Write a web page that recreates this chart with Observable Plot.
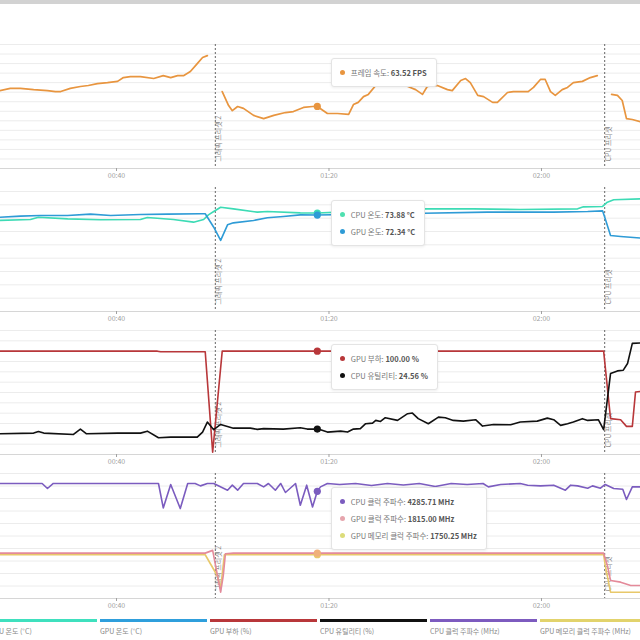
<!DOCTYPE html>
<html><head><meta charset="utf-8">
<script src="https://cdn.jsdelivr.net/npm/d3@7"></script>
<script src="https://cdn.jsdelivr.net/npm/@observablehq/plot@0.6"></script>
<style>
body{margin:0;background:#fff;font-family:"Noto Sans CJK KR","Noto Sans",sans-serif;}
#root{position:relative;width:640px;height:640px;overflow:hidden;background:#fff;}
.panel{position:absolute;left:0;width:640px;}
.panel svg{display:block;overflow:visible;}
.topbar{position:absolute;left:0;top:0;width:640px;height:4px;background:#d2d2d2;}
.tip{position:absolute;background:#fff;border:1px solid #e4e4e4;border-radius:3px;box-shadow:0 1px 3px rgba(0,0,0,0.07);padding:5px 9px 5px 8px;font-size:7.5px;line-height:17px;color:#777;white-space:nowrap;}
.tip .dot{display:inline-block;width:5px;height:5px;border-radius:50%;margin-right:6px;vertical-align:middle;position:relative;top:-1px;}
.tip b{color:#555;}
.leg{position:absolute;top:619px;width:107px;}
.leg .bar{height:3px;width:107px;}
.leg .lab{font-size:7px;color:#888;margin-top:4px;white-space:nowrap;line-height:10px;}
</style>
</head><body>
<div id="root"><div class="topbar"></div></div>
<script>
// time in minutes since start
const xDomain = [18.16, 138.64];
const xTicks = [40, 80, 120];
const xTickLabels = ["00:40", "01:20", "02:00"];
const eventTimes = [58.6, 131.9];
const eventLabels = ["그래픽 프리셋 2", "CPU 프리셋"];
const hoverTime = 77.8;

// 프레임 속도 (FPS) — null = gap
const fps = [[18,68.5],[20.0,69.2],[21.9,69.2],[24.4,68.8],[27.0,68.5],[28.5,68.2],[29.5,68.2],[31.3,69.2],[33.2,69.8],[34.7,70.1],[36.4,70.7],[38.3,71.0],[40.2,71.4],[41.3,72.6],[42.6,72.9],[44.5,72.9],[47.0,72.3],[48.8,73.2],[50.2,72.6],[51.5,73.2],[52.6,73.2],[53.9,74.5],[55.2,77.0],[56.2,78.9],[57.1,79.5],[58.6,null],[59.9,68.2],[61.1,63.8],[61.8,62.2],[62.8,63.5],[63.9,62.9],[65.8,60.7],[67.7,59.7],[69.6,60.7],[71.8,61.6],[73.3,61.9],[75.2,63.2],[76.9,63.5],[77.8,63.52],[79.7,61.3],[81.6,61.3],[83.7,61.0],[84.6,64.1],[85.5,64.8],[86.5,66.6],[87.4,67.3],[88.8,70.1],[90.6,72.3],[92.5,71.4],[94.0,70.4],[95.3,69.5],[96.3,68.8],[97.6,67.3],[98.5,69.8],[100.4,70.1],[102.3,68.8],[103.2,68.5],[104.8,71.7],[105.7,72.3],[106.6,71.0],[108.0,67.0],[109.1,66.6],[110.8,64.8],[111.7,64.8],[113.6,67.9],[114.7,68.2],[117.5,68.2],[118.5,69.5],[119.8,72.0],[120.7,72.0],[121.7,68.2],[122.6,67.0],[123.9,68.8],[124.9,69.5],[126.0,71.0],[127.7,71.4],[129.2,72.6],[130.5,73.2],[131.9,null],[133.2,67.3],[134.3,67.0],[135.2,65.4],[136.0,59.7],[137.1,59.4],[139,58.5]];

// CPU 온도 / GPU 온도 (°C)
const cpuTemp = [[18,68.3],[23.8,69.0],[25.3,70.7],[30.8,69.5],[37.0,68.8],[44.5,69.0],[45.8,70.5],[50.7,69.0],[54.5,67.0],[56.4,69.0],[57.3,72.5],[58.3,75.0],[59.6,78.2],[62.0,77.0],[66.5,74.5],[68.4,75.0],[74.6,74.0],[77.8,73.88],[82,74.5],[88,75.5],[94,76.2],[97.8,77.0],[107.2,77.0],[116.0,76.5],[126.8,77.0],[127.9,78.5],[131.5,78.8],[132.4,82.0],[133.6,83.8],[139,84.5]];
const gpuTemp = [[18,70.7],[21.9,71.5],[25.7,72.0],[30.8,72.0],[35.1,73.0],[38.9,72.0],[44.5,72.8],[49.6,73.0],[55.8,73.3],[56.7,73.3],[58.3,63.2],[59.6,53.3],[60.9,65.0],[62.0,66.5],[65.8,68.3],[68.4,70.3],[71.4,71.3],[74.6,72.5],[77.8,72.34],[88,73.0],[97.8,73.7],[109.8,74.5],[116.0,74.5],[122.3,74.5],[128.7,75.0],[131.5,75.5],[132.0,69.5],[133.0,57.0],[134.9,56.3],[139,55.0]];

// GPU 부하 / CPU 유틸리티 (%)
const gpuLoad = [[18,100],[47.7,100],[48.3,99.4],[56.7,99.4],[58.1,2.2],[59.9,100],[77.8,100],[131.7,100],[133.0,34.7],[134.9,33.7],[136.0,27.2],[137.1,27.2],[137.7,60.5],[139,61.2]];
const cpuUtil = [[18,20.1],[24.4,20.7],[25.3,22.3],[26.3,20.7],[31.9,19.4],[33.2,24.6],[34.3,20.1],[40.2,20.7],[44.5,20.7],[45.8,22.6],[47.9,16.2],[50.2,16.8],[55.2,16.8],[56.2,21.7],[57.1,31.4],[58.3,24.0],[59.6,29.1],[62.0,25.5],[65.2,25.5],[66.5,24.3],[67.7,25.0],[71.4,24.6],[74.6,25.9],[75.9,24.6],[77.8,24.56],[78.4,24.0],[79.7,21.7],[82.2,22.6],[83.5,21.7],[84.6,24.6],[85.9,25.0],[86.9,29.8],[88.2,30.4],[88.8,33.0],[89.7,32.0],[90.6,35.6],[92.9,33.0],[94.8,39.5],[95.7,40.1],[96.8,34.7],[98.7,29.8],[100.6,36.2],[101.9,35.6],[103.4,33.0],[105.3,32.3],[107.6,33.7],[108.9,27.5],[111.0,29.1],[114.2,28.8],[116.0,31.4],[119.2,32.3],[121.1,35.2],[122.3,33.7],[123.6,28.2],[124.9,29.8],[126.0,31.4],[127.7,34.7],[128.7,33.0],[130.7,33.7],[131.7,24.0],[133.0,78.3],[134.3,80.9],[135.4,81.6],[136.2,88.1],[137.1,107.5],[139,108.1]];

// 클럭 주파수 (MHz)
const cpuClock = [[18,4601],[26,4601],[27.0,4400],[28.1,4601],[47.9,4601],[48.8,3622],[50.2,4561],[52.0,3598],[53.4,4601],[54.8,4601],[55.8,4505],[57.1,4601],[58.3,4601],[60.9,4332],[61.8,4533],[62.8,4332],[63.9,4601],[66.5,4601],[67.7,4465],[68.6,4601],[69.9,4332],[70.9,4601],[71.8,4240],[73.7,4601],[74.6,3730],[75.8,4533],[76.9,3662],[77.8,4285.71],[78.4,4465],[79.7,4601],[82,4560],[85,4601],[88,4520],[91,4601],[94,4540],[97,4601],[100,4480],[103,4601],[106,4560],[109,4601],[110,4465],[112.3,4561],[116.0,4601],[117.4,4533],[119.8,4505],[122.3,4533],[124.5,4332],[125.5,4533],[126.8,4505],[128.7,4412],[129.6,4505],[131.1,4412],[132.0,4561],[133.6,4400],[135.3,4372],[136.0,3959],[137.1,4465],[139,4465]];
const gpuClock = [[18,1817],[56.7,1815],[58.1,1925],[59.0,923],[59.6,253],[60.1,923],[60.5,1793],[62,1815],[77.8,1815],[131.7,1815],[132.4,1324],[133.0,722],[134.9,654],[136.8,521],[139,521]];
const gpuMemClock = [[18,1750],[56.7,1750],[59.0,900],[59.6,400],[60.3,1750],[77.8,1750.25],[131.7,1750],[132.0,1324],[133.0,253],[139,253]];

const legendLabels = ["CPU 온도 (°C)","GPU 온도 (°C)","GPU 부하 (%)","CPU 유틸리티 (%)","CPU 클럭 주파수 (MHz)","GPU 메모리 클럭 주파수 (MHz)"];
const legendColors = ["#3fe0be","#2f9fdc","#b8373a","#111111","#7d5bbf","#e2d36c"];

const C = {fps:"#e8953f", cpuT:"#3ddbb5", gpuT:"#2e9bd6", load:"#b8373a", util:"#111111", cclk:"#7b5cbf", gclk:"#e48a9a", mclk:"#e8c86a"};

const events = eventTimes.map((t,i)=>({t, label: eventLabels[i]}));
const fmt = d => xTickLabels[xTicks.indexOf(d)];
const root = document.getElementById("root");

function panel(cfg){
  const marks = [
    Plot.ruleY(d3.range(cfg.yDomain[0]+cfg.step, cfg.yDomain[1]+cfg.step/2, cfg.step), {stroke:"#ececec", strokeWidth:1}),
    Plot.ruleY([cfg.yDomain[0]], {stroke:"#d6d6d6"}),
    Plot.axisX(xTicks, {tickFormat: fmt, tickSize: 3, tickPadding: 2, fontSize: 7, color: "#a0a0a0", label: null}),
    Plot.ruleX(events, {x:"t", stroke:"#666", strokeWidth:1, strokeDasharray:"2,2", insetTop: cfg.ruleInset || 0}),
    Plot.text(events, {x:"t", text:"label", frameAnchor:"bottom", rotate:-90, textAnchor:"start", dx:6, dy:-7, fontSize:7, fill:"#888"})
  ];
  for (const s of cfg.series) {
    marks.push(Plot.line(s.data, {x: d=>d[0], y: d=>d[1], stroke: s.color, strokeWidth: s.w || 1.6}));
  }
  for (const s of cfg.series) {
    const hv = s.data.find(d => d[0] === hoverTime);
    if (hv) marks.push(Plot.dot([hv], {x: d=>d[0], y: d=>d[1], fill: s.dotColor || s.color, r: 3.6}));
  }
  const p = Plot.plot({
    width: 640, height: cfg.height,
    marginLeft: 0, marginRight: 0, marginTop: cfg.mt, marginBottom: cfg.mb,
    style: {fontFamily: '"Noto Sans CJK KR","Noto Sans",sans-serif', background: "transparent", overflow: "visible"},
    x: {domain: xDomain, axis: null, label: null},
    y: {domain: cfg.yDomain, axis: null},
    marks
  });
  const div = document.createElement("div");
  div.className = "panel";
  div.style.top = cfg.top + "px";
  div.appendChild(p);
  const tip = document.createElement("div");
  tip.className = "tip";
  tip.style.left = (p.scale("x").apply(hoverTime) + 14) + "px";
  tip.style.top = cfg.tipTop + "px";
  tip.innerHTML = cfg.tips.map(r => `<div><span class="dot" style="background:${r.color}"></span>${r.label}: <b>${r.value}</b></div>`).join("");
  div.appendChild(tip);
  root.appendChild(div);
}

panel({top:0, height:183, mt:44, mb:15, yDomain:[44,83], step:3,
  series:[{data:fps, color:C.fps, w:1.7}],
  tipTop:58, tips:[{color:C.fps, label:"프레임 속도", value:"63.52 FPS"}]});

panel({top:183, height:143, mt:8, mb:15, yDomain:[0,90], step:10, ruleInset:-4,
  series:[{data:cpuTemp, color:C.cpuT},{data:gpuTemp, color:C.gpuT}],
  tipTop:17, tips:[{color:"#4fe0b0", label:"CPU 온도", value:"73.88 °C"},{color:C.gpuT, label:"GPU 온도", value:"72.34 °C"}]});

panel({top:326, height:143, mt:4, mb:15, yDomain:[0,120], step:10,
  series:[{data:gpuLoad, color:C.load},{data:cpuUtil, color:C.util}],
  tipTop:18, tips:[{color:C.load, label:"GPU 부하", value:"100.00 %"},{color:C.util, label:"CPU 유틸리티", value:"24.56 %"}]});

panel({top:469, height:144, mt:4, mb:15, yDomain:[0,5000], step:500,
  series:[{data:cpuClock, color:C.cclk},{data:gpuMemClock, color:C.mclk},{data:gpuClock, color:C.gclk, dotColor:"#f0b07a"}],
  tipTop:18, tips:[{color:C.cclk, label:"CPU 클럭 주파수", value:"4285.71 MHz"},{color:"#e6a5ad", label:"GPU 클럭 주파수", value:"1815.00 MHz"},{color:"#dcdc7a", label:"GPU 메모리 클럭 주파수", value:"1750.25 MHz"}]});

legendLabels.forEach((lab, i) => {
  const d = document.createElement("div");
  d.className = "leg";
  d.style.left = (-10 + i*110) + "px";
  d.innerHTML = `<div class="bar" style="background:${legendColors[i]}"></div><div class="lab">${lab}</div>`;
  root.appendChild(d);
});
</script>
</body></html>
